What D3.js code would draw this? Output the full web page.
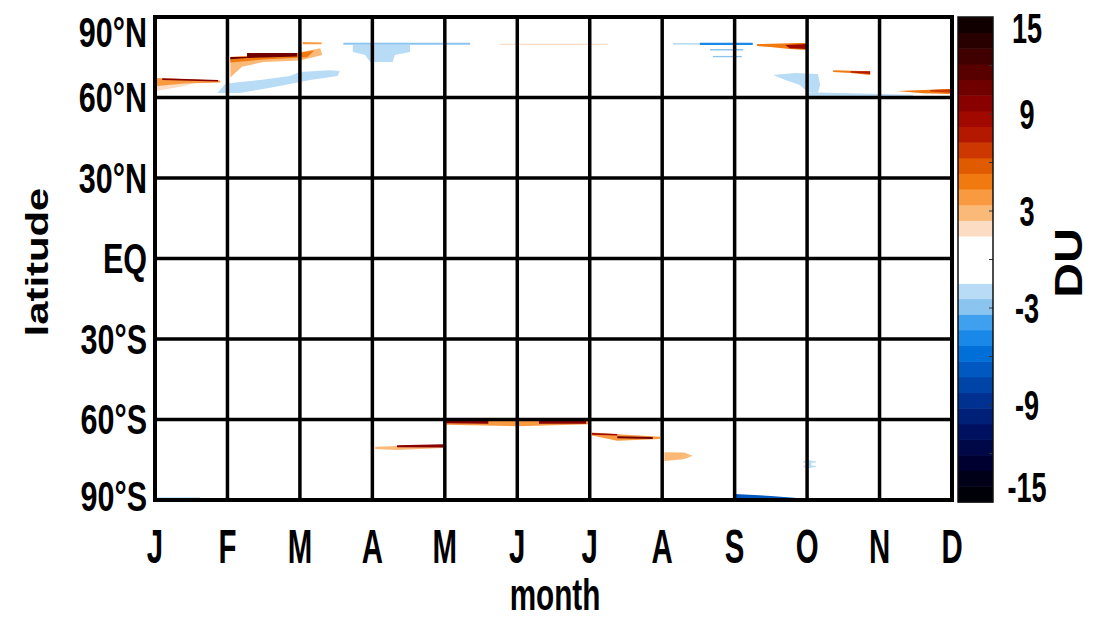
<!DOCTYPE html>
<html>
<head>
<meta charset="utf-8">
<script src="https://d3js.org/d3.v7.min.js"></script>
<style>
  body { margin: 0; background: #fff; }
  text { font-family: "Liberation Sans", Arial, sans-serif; font-weight: bold; fill: #000; }
</style>
</head>
<body>
<div id="chart"></div>
<script>

// axis labels
var months = ["J", "F", "M", "A", "M", "J", "J", "A", "S", "O", "N", "D"];
var latTicks = [90, 60, 30, 0, -30, -60, -90];
var latLabels = ["90°N", "60°N", "30°N", "EQ", "30°S", "60°S", "90°S"];
var cbarTicks = [15, 9, 3, -3, -9, -15];

// colour levels, -15 DU (bottom) to 15 DU (top)
var levelColors = ["#000008", "#000018", "#000030", "#000848", "#001060", "#002078", "#003090",
  "#0044a8", "#0058c0", "#0070d8", "#1a88e8", "#40a0f0", "#8cc4f0", "#b8dcf6",
  "#ffffff", "#ffffff", "#ffffff",
  "#fddcc4", "#fbb978", "#f99a40", "#f07a10", "#e05a00", "#cc3800", "#b41800",
  "#a00800", "#880000", "#700000", "#580000", "#400000", "#280000", "#100000"];

// anomaly patches: [DU, [[month, latitude], ...]]
var northPatches = [
  [2, [[0, 66.5], [0.6, 65.8], [0.4, 64.3], [0, 62.3]]],
  [4, [[0, 67.3], [0.9, 66.3], [0.9, 65.6], [0.4, 65.2], [0, 64.2]]],
  [10, [[0.1, 67.2], [0.87, 66.5], [0.87, 66.0], [0.1, 66.5]]],
  [-2, [[0.86, 61.7], [0.97, 65.0], [1.17, 65.8], [1.45, 66.5], [1.86, 68.0], [2.0, 69.5], [2.41, 70.2],
        [2.55, 69.9], [2.52, 68.0], [2.14, 66.5], [1.86, 65.0], [1.59, 63.6], [1.17, 61.7]]],
  [3, [[1.04, 75.1], [1.96, 76.6], [2.28, 78.4], [2.31, 75.8], [2.0, 73.8], [1.5, 73.2], [1.2, 71.5],
       [1.08, 68.5], [1.04, 67.5]]],
  [5, [[1.04, 75.1], [1.96, 76.6], [2.2, 77.5], [2.1, 75.0], [1.5, 74.2], [1.04, 73.0]]],
  [11, [[1.04, 75.1], [1.27, 75.1], [1.27, 76.6], [1.96, 76.6], [1.96, 75.3], [1.27, 74.7], [1.04, 74.3]]],
  [4, [[2.04, 80.7], [2.3, 80.5], [2.3, 79.8], [2.04, 79.8]]],
  [-3, [[2.6, 80.4], [4.35, 80.4], [4.35, 79.7], [2.6, 79.7]]],
  [-2, [[2.73, 79.6], [3.52, 79.6], [3.52, 77.0], [3.31, 75.8], [3.28, 73.2], [2.97, 73.2], [2.90, 75.8], [2.73, 77.0]]],
  [1.6, [[4.76, 80.0], [6.25, 80.0], [6.25, 79.6], [4.76, 79.6]]],
  [-2, [[7.15, 80.3], [7.52, 80.3], [7.52, 79.7], [7.15, 79.7]]],
  [-5, [[7.52, 80.4], [8.25, 80.4], [8.25, 79.6], [7.52, 79.6]]],
  [-3, [[7.66, 78.1], [8.12, 78.1], [8.12, 77.5], [7.66, 77.5]]],
  [-3, [[7.7, 75.5], [8.1, 75.5], [8.1, 75.0], [7.7, 75.0]]],
  [5, [[8.31, 79.9], [8.9, 80.3], [9.0, 80.3], [9.0, 77.7], [8.76, 78.1], [8.49, 78.8], [8.31, 79.2]]],
  [9, [[8.7, 79.6], [9.0, 79.9], [9.0, 78.1], [8.76, 78.4]]],
  [-2, [[8.53, 68.4], [8.83, 69.1], [9.15, 68.8], [9.18, 64.7], [9.15, 61.7], [9.01, 62.0], [8.90, 64.7], [8.70, 66.5]]],
  [-2, [[9.0, 62.0], [10.46, 61.0], [10.46, 59.6], [9.0, 59.6]]],
  [5, [[9.36, 70.2], [9.87, 69.8], [9.87, 68.4], [9.6, 69.1], [9.36, 69.5]]],
  [8, [[9.6, 69.8], [9.87, 69.8], [9.87, 68.8], [9.6, 69.3]]],
  [5, [[10.24, 62.4], [10.97, 63.2], [11, 63.2], [11, 61.3], [10.6, 61.6]]],
  [7, [[10.7, 62.8], [11, 63.1], [11, 61.8], [10.7, 62.2]]]
];

var southPatches = [
  [-2, [[0, -89.0], [0.62, -89.0], [0.62, -90], [0, -90]]],
  [3, [[3.04, -70.2], [3.34, -69.9], [3.98, -69.4], [3.98, -70.6], [3.34, -71.4], [3.04, -71.0]]],
  [10, [[3.34, -69.6], [3.98, -69.2], [3.98, -70.4], [3.34, -70.3]]],
  [4, [[3.98, -60.3], [6.0, -60.3], [6.0, -61.8], [5.0, -62.5], [4.0, -62.0]]],
  [10, [[4.02, -60.5], [4.6, -60.5], [4.6, -61.6], [4.02, -61.4]]],
  [10, [[5.3, -60.6], [5.95, -60.6], [5.95, -61.6], [5.3, -61.6]]],
  [4, [[6.03, -64.8], [6.38, -65.5], [6.97, -66.4], [6.97, -67.3], [6.38, -67.9], [6.03, -66.0]]],
  [9, [[6.03, -65.0], [6.38, -65.4], [6.38, -66.0], [6.03, -65.7]]],
  [11, [[6.38, -66.2], [6.87, -66.5], [6.87, -67.3], [6.38, -67.0]]],
  [3, [[7.03, -72.2], [7.3, -72.3], [7.42, -73.5], [7.3, -74.8], [7.03, -75.5]]],
  [-7, [[8.0, -87.8], [8.5, -88.5], [8.86, -89.3], [8.86, -90], [8.0, -90]]],
  [-2, [[8.95, -75.5], [9.12, -75.5], [9.12, -76.1], [8.95, -76.1]]],
  [-2, [[8.95, -77.2], [9.12, -77.2], [9.12, -77.8], [8.95, -77.8]]],
  [-2, [[9.02, -75.2], [9.06, -75.2], [9.06, -78.1], [9.02, -78.1]]]
];

var W = 1099, H = 620;
var plot = {left: 155, right: 952, top: 17, bottom: 500};
var cbar = {left: 958, right: 993, top: 17, bottom: 502};

var svg = d3.select("#chart").append("svg")
  .attr("width", W).attr("height", H);

var x = d3.scaleLinear().domain([0, 11]).range([plot.left, plot.right]);
var y = d3.scaleLinear().domain([90, -90]).range([plot.top, plot.bottom]);
var color = d3.scaleQuantize().domain([-15, 15]).range(levelColors);

svg.append("clipPath").attr("id", "clip")
  .append("rect")
    .attr("x", plot.left).attr("y", plot.top)
    .attr("width", plot.right - plot.left).attr("height", plot.bottom - plot.top);

// patches
var line = d3.line()
  .x(function(d) { return x(d[0]); })
  .y(function(d) { return y(d[1]); })
  .curve(d3.curveLinearClosed);

svg.append("g")
  .attr("clip-path", "url(#clip)")
  .selectAll("path")
  .data(northPatches.concat(southPatches))
  .enter().append("path")
    .attr("d", function(d) { return line(d[1]); })
    .attr("fill", function(d) { return color(d[0]); })
    .attr("stroke", "none");

// grid
var grid = svg.append("g").attr("stroke", "#000").attr("stroke-width", 3.5);
grid.selectAll(".vl").data(d3.range(1, 11)).enter().append("line")
  .attr("x1", function(d) { return x(d); }).attr("x2", function(d) { return x(d); })
  .attr("y1", plot.top).attr("y2", plot.bottom);
grid.selectAll(".hl").data(latTicks.slice(1, -1)).enter().append("line")
  .attr("x1", plot.left).attr("x2", plot.right)
  .attr("y1", function(d) { return y(d); }).attr("y2", function(d) { return y(d); });
svg.append("rect")
  .attr("x", plot.left).attr("y", plot.top)
  .attr("width", plot.right - plot.left).attr("height", plot.bottom - plot.top)
  .attr("fill", "none").attr("stroke", "#000").attr("stroke-width", 4);

// latitude labels
svg.selectAll(".ylab").data(latTicks).enter().append("text")
  .attr("transform", function(d) {
    var yy = Math.max(32, Math.min(496, y(d)));
    return "translate(147," + yy + ") scale(0.71,1)";
  })
  .attr("text-anchor", "end")
  .attr("dominant-baseline", "central")
  .style("font-size", "43px")
  .text(function(d, i) { return latLabels[i]; });

// month labels
svg.selectAll(".xlab").data(months).enter().append("text")
  .attr("transform", function(d, i) { return "translate(" + x(i) + ",563) scale(0.6,1)"; })
  .attr("text-anchor", "middle")
  .style("font-size", "49px")
  .text(function(d) { return d; });

svg.append("text")
  .attr("transform", "translate(555,610) scale(0.66,1)")
  .attr("text-anchor", "middle")
  .style("font-size", "45px")
  .text("month");

svg.append("text")
  .attr("transform", "translate(48,262) rotate(-90) scale(1.35,1)")
  .attr("text-anchor", "middle")
  .style("font-size", "31px")
  .text("latitude");

// colour bar
var cb = d3.scaleLinear().domain([-15, 15]).range([cbar.bottom, cbar.top]);
svg.append("g").selectAll("rect")
  .data(levelColors).enter().append("rect")
    .attr("x", cbar.left)
    .attr("width", cbar.right - cbar.left)
    .attr("y", function(c) { return cb(color.invertExtent(c)[1]); })
    .attr("height", function(c) {
      var e = color.invertExtent(c);
      return cb(e[0]) - cb(e[1]) + 0.5;
    })
    .attr("fill", function(c) { return c; });

svg.append("g").selectAll("line")
  .data(d3.range(-12, 15, 3)).enter().append("line")
    .attr("x1", cbar.right - 4).attr("x2", cbar.right)
    .attr("y1", function(d) { return cb(d); }).attr("y2", function(d) { return cb(d); })
    .attr("stroke", "#333").attr("stroke-width", 1);

svg.append("rect")
  .attr("x", cbar.left).attr("y", cbar.top)
  .attr("width", cbar.right - cbar.left).attr("height", cbar.bottom - cbar.top)
  .attr("fill", "none").attr("stroke", "#111").attr("stroke-width", 1.5);

svg.selectAll(".cblab").data(cbarTicks).enter().append("text")
  .attr("transform", function(d) {
    var yy = Math.max(28, Math.min(487, cb(d)));
    return "translate(1027," + yy + ") scale(0.63,1)";
  })
  .attr("text-anchor", "middle")
  .attr("dominant-baseline", "central")
  .style("font-size", "43px")
  .text(function(d) { return d; });

svg.append("text")
  .attr("transform", "translate(1082,263) rotate(-90) scale(1.27,1)")
  .attr("text-anchor", "middle")
  .style("font-size", "38px")
  .text("DU");

</script>
</body>
</html>
